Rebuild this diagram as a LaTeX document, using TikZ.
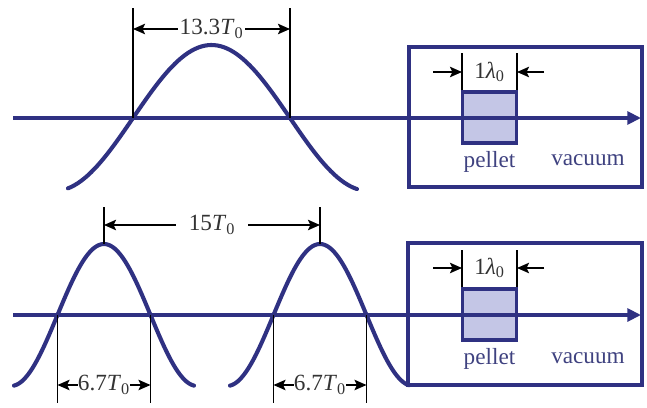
\documentclass[tikz,border=0pt]{standalone}
\usepackage{fontspec}
\setmainfont{Liberation Serif}
\usepackage{xcolor}
\usepackage{tikz}
\usetikzlibrary{arrows.meta}
\definecolor{waveNavy}{HTML}{2F3182}
\definecolor{pelletFill}{HTML}{C4C6E6}
\definecolor{labelGray}{HTML}{333333}
\definecolor{textNavy}{HTML}{3F4280}
\newcommand{\Tzero}{\textit{T}\textsubscript{0}}
\newcommand{\lamzero}{1\textit{λ}\textsubscript{0}}
\tikzset{
  wave/.style={draw=waveNavy, line width=2.9pt, line cap=round},
  axis line/.style={draw=waveNavy, line width=2.4pt,
    -{Triangle[length=3.4mm,width=3.2mm]}},
  region box/.style={draw=waveNavy, line width=2.4pt},
  pellet box/.style={draw=waveNavy, line width=2.4pt, fill=pelletFill,
    minimum width=38pt, minimum height=36.5pt, inner sep=0pt},
  guide/.style={draw=black, line width=1.2pt},
  dim arrow/.style={draw=black, line width=1.2pt,
    -{Stealth[length=3mm,width=2.6mm,inset=0.6mm]}},
  dim label/.style={font=\fontsize{16.5}{19}\selectfont, text=labelGray,
    inner sep=1pt},
  medium label/.style={font=\fontsize{16.5}{19}\selectfont, text=textNavy,
    inner sep=1pt}
}

\begin{document}
\begin{tikzpicture}[x=0.025cm, y=-0.025cm]
  \useasboundingbox (0,0) rectangle (647,408);
  % upper panel: single pulse
  \coordinate (ta0) at (13,118);
  \coordinate (ta1) at (641,118);
  \coordinate (tb0) at (409,47);
  \coordinate (tb1) at (642,187);
  \draw[region box] (tb0) rectangle (tb1);
  \node[pellet box] (pellet1) at (489.5,117.5) {};
  \draw[wave] plot[domain=68:357, samples=90]
    (\x, {118-73*cos((\x-211.5)/157*180)});
  \draw[axis line] (ta0) -- (ta1);
  \coordinate (g1t) at (133,8);  \coordinate (g1b) at (133,118);
  \coordinate (g2t) at (290,8);  \coordinate (g2b) at (290,118);
  \draw[guide] (g1t) -- (g1b);
  \draw[guide] (g2t) -- (g2b);
  \node[dim label] (period1) at (211.5,29) {13.3\Tzero};
  \draw[dim arrow] (period1.west) -- (period1.west -| g1b);
  \draw[dim arrow] (period1.east) -- (period1.east -| g2b);
  \coordinate (p1l) at (462,53);  \coordinate (p1r) at (517,53);
  \draw[guide] (p1l) -- (p1l |- pellet1.north);
  \draw[guide] (p1r) -- (p1r |- pellet1.north);
  \node[dim label] (width1) at (489.5,72) {\lamzero};
  \coordinate (w1a) at (433,72);  \coordinate (w1b) at (544,72);
  \draw[dim arrow] (w1a) -- (w1a -| p1l);
  \draw[dim arrow] (w1b) -- (w1b -| p1r);
  \node[medium label] (pel1) at (489.5,162) {pellet};
  \node[medium label] (vac1) at (588,160) {vacuum};

  % lower panel: two pulses
  \coordinate (ba0) at (13,315);
  \coordinate (ba1) at (641,315);
  \coordinate (bb0) at (408,243);
  \coordinate (bb1) at (642,385);
  \draw[region box] (bb0) rectangle (bb1);
  \node[pellet box] (pellet2) at (489.5,314.5) {};
  \draw[wave] plot[domain=14:194, samples=90]
    (\x, {315-71*cos((\x-104)/93*180)});
  \draw[wave] plot[domain=230:409, samples=90]
    (\x, {315-71*cos((\x-320)/93*180)});
  \draw[axis line] (ba0) -- (ba1);
  \coordinate (h1t) at (104,207);  \coordinate (h1b) at (104,244);
  \coordinate (h2t) at (320,207);  \coordinate (h2b) at (320,244);
  \draw[guide] (h1t) -- (h1b);
  \draw[guide] (h2t) -- (h2b);
  \node[dim label, inner xsep=9pt] (period2) at (212,225) {15\Tzero};
  \draw[dim arrow] (period2.west) -- (period2.west -| h1b);
  \draw[dim arrow] (period2.east) -- (period2.east -| h2b);
  \coordinate (z1t) at (57.5,315);   \coordinate (z1b) at (57.5,403);
  \coordinate (z2t) at (150.5,315);  \coordinate (z2b) at (150.5,403);
  \coordinate (z3t) at (273.5,315);  \coordinate (z3b) at (273.5,403);
  \coordinate (z4t) at (366.5,315);  \coordinate (z4b) at (366.5,403);
  \draw[guide] (z1t) -- (z1b);
  \draw[guide] (z2t) -- (z2b);
  \draw[guide] (z3t) -- (z3b);
  \draw[guide] (z4t) -- (z4b);
  \node[dim label, inner xsep=0pt] (half1) at (104,385) {6.7\Tzero};
  \node[dim label, inner xsep=0pt] (half2) at (320,385) {6.7\Tzero};
  \draw[dim arrow] (half1.west) -- (half1.west -| z1b);
  \draw[dim arrow] (half1.east) -- (half1.east -| z2b);
  \draw[dim arrow] (half2.west) -- (half2.west -| z3b);
  \draw[dim arrow] (half2.east) -- (half2.east -| z4b);
  \coordinate (p2l) at (462,250);  \coordinate (p2r) at (517,250);
  \draw[guide] (p2l) -- (p2l |- pellet2.north);
  \draw[guide] (p2r) -- (p2r |- pellet2.north);
  \node[dim label] (width2) at (489.5,268) {\lamzero};
  \coordinate (w2a) at (433,268);  \coordinate (w2b) at (544,268);
  \draw[dim arrow] (w2a) -- (w2a -| p2l);
  \draw[dim arrow] (w2b) -- (w2b -| p2r);
  \node[medium label] (pel2) at (489.5,359) {pellet};
  \node[medium label] (vac2) at (588,358) {vacuum};
\end{tikzpicture}
\end{document}
